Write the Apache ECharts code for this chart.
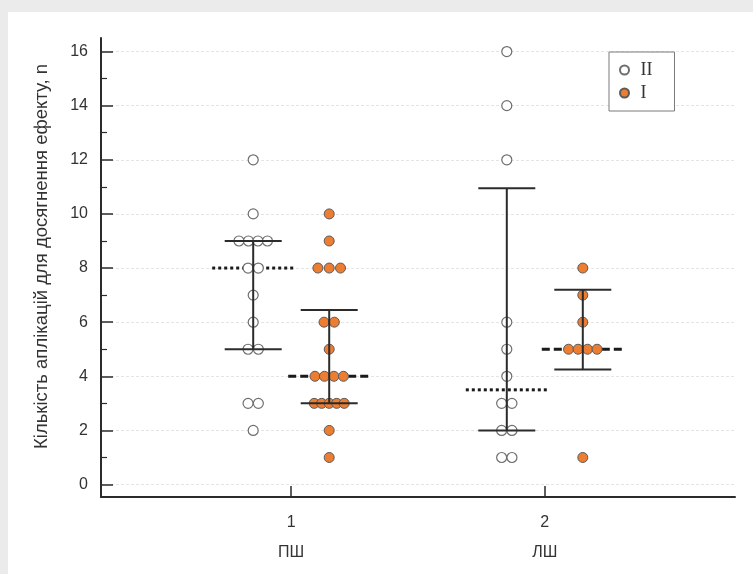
<!DOCTYPE html>
<html><head><meta charset="utf-8">
<script src="https://cdn.jsdelivr.net/npm/echarts@6/dist/echarts.min.js"></script>
<style>
html,body{margin:0;padding:0;background:#ebebeb;width:753px;height:574px;overflow:hidden}
#panel{position:absolute;left:8px;top:12px;width:745px;height:562px;background:#fff}
#chart{position:absolute;left:0;top:0;width:753px;height:574px}
</style>
</head><body><div id="panel"></div><div id="chart"></div>
<script>
// ---- data ----
const groupPos = [1, 2];
const groupNames = ['ПШ', 'ЛШ'];
const yTicks = [0, 2, 4, 6, 8, 10, 12, 14, 16];
const yMinorTicks = [1, 3, 5, 7, 9, 11, 13, 15];
const seriesNames = ['II', 'I'];

const valuesII_PSh = [12, 10, 9, 9, 9, 9, 8, 8, 7, 6, 5, 5, 3, 3, 2];
const valuesI_PSh  = [10, 9, 8, 8, 8, 6, 6, 5, 4, 4, 4, 4, 3, 3, 3, 3, 3, 2, 1];
const valuesII_LSh = [16, 14, 12, 6, 5, 4, 3, 3, 2, 2, 1, 1];
const valuesI_LSh  = [8, 7, 6, 5, 5, 5, 5, 1];

const medianII = [8, 3.5];
const lowII    = [5, 2];
const highII   = [9, 10.95];
const medianI  = [4, 5];
const lowI     = [3, 4.25];
const highI    = [6.45, 7.2];

// ---- layout (pixels) ----
const groupOffsetPx = { II: -38, I: 38 };
const spacingByCount = { 1: 0, 2: 10.3, 3: 11.3, 4: 9.5, 5: 7.5 };
const capHalf = 28.5, medianHalf = 41;

function swarm(values, pos, off) {
  const counts = {};
  values.forEach(v => counts[v] = (counts[v] || 0) + 1);
  const seen = {};
  return values.map(v => {
    const n = counts[v], k = seen[v] = (seen[v] === undefined ? 0 : seen[v] + 1);
    const sp = spacingByCount[n] !== undefined ? spacingByCount[n] : 7.5;
    return { value: [pos, v], symbolOffset: [off + (k - (n - 1) / 2) * sp, 0] };
  });
}

const dataII = swarm(valuesII_PSh, groupPos[0], groupOffsetPx.II).concat(swarm(valuesII_LSh, groupPos[1], groupOffsetPx.II));
const dataI  = swarm(valuesI_PSh, groupPos[0], groupOffsetPx.I).concat(swarm(valuesI_LSh, groupPos[1], groupOffsetPx.I));

const errII = groupPos.map((p, i) => [p, lowII[i], highII[i]]);
const errI  = groupPos.map((p, i) => [p, lowI[i], highI[i]]);
const medII = groupPos.map((p, i) => [p, medianII[i]]);
const medI  = groupPos.map((p, i) => [p, medianI[i]]);

function errRender(off) {
  return function (params, api) {
    const lo = api.coord([api.value(0), api.value(1)]);
    const hi = api.coord([api.value(0), api.value(2)]);
    const x = lo[0] + off;
    const st = { stroke: '#2b2b2b', lineWidth: 2 };
    return { type: 'group', children: [
      { type: 'line', shape: { x1: x, y1: lo[1], x2: x, y2: hi[1] }, style: st },
      { type: 'line', shape: { x1: x - capHalf, y1: lo[1], x2: x + capHalf, y2: lo[1] }, style: st },
      { type: 'line', shape: { x1: x - capHalf, y1: hi[1], x2: x + capHalf, y2: hi[1] }, style: st }
    ]};
  };
}
function medRender(off, dash) {
  return function (params, api) {
    const c = api.coord([api.value(0), api.value(1)]);
    const x = c[0] + off;
    return { type: 'line', shape: { x1: x - medianHalf, y1: c[1], x2: x + medianHalf, y2: c[1] },
      style: { stroke: '#1a1a1a', lineWidth: 3, lineDash: dash } };
  };
}

const chart = echarts.init(document.getElementById('chart'), null, { renderer: 'canvas' });
chart.setOption({
  animation: false,
  backgroundColor: 'transparent',
  textStyle: { fontFamily: 'Liberation Sans, Arial, sans-serif' },
  grid: { left: 101, right: 18, top: 38, bottom: 77 },
  legend: {
    data: seriesNames,
    orient: 'vertical',
    left: 609, top: 52,
    padding: [9, 22, 9, 10],
    itemWidth: 22, itemHeight: 9, itemGap: 5,
    icon: 'circle',
    borderColor: '#7a7a7a', borderWidth: 1,
    backgroundColor: '#fff',
    textStyle: { fontFamily: 'Liberation Serif, Times New Roman, serif', fontSize: 18, color: '#333', lineHeight: 14, padding: [0, 0, 0, 0] }
  },
  xAxis: {
    type: 'value', min: 0.25, max: 2.75,
    axisLine: { show: true, onZero: false, lineStyle: { color: '#2b2b2b', width: 2 } },
    axisTick: { show: true, inside: true, length: 11, customValues: groupPos, lineStyle: { color: '#2b2b2b', width: 1.5 } },
    axisLabel: {
      customValues: groupPos, margin: 11,
      formatter: v => { const i = groupPos.indexOf(v); return '{a|' + v + '}\n{b|' + groupNames[i] + '}'; },
      rich: { a: { fontSize: 16, lineHeight: 30, color: '#333' }, b: { fontSize: 16, lineHeight: 30, color: '#333' } }
    },
    splitLine: { show: false }
  },
  yAxis: [{
    type: 'value', min: -0.46, max: 16.5,
    name: 'Кількість аплікацій для досягнення ефекту, n',
    nameLocation: 'middle', nameGap: 50,
    nameTextStyle: { fontSize: 18.5, color: '#333', padding: [0, 0, 0, 22] },
    axisLine: { show: true, onZero: false, lineStyle: { color: '#2b2b2b', width: 2 } },
    axisTick: { show: true, inside: true, length: 12, customValues: yTicks, lineStyle: { color: '#2b2b2b', width: 1.5 } },
    axisLabel: { customValues: yTicks, margin: 13, fontSize: 16, color: '#333' },
    splitLine: { show: true, lineStyle: { color: '#e4e4e4', width: 1, type: [3, 2] } }
  }, {
    type: 'value', min: -0.46, max: 16.5, position: 'left', offset: 0,
    axisLine: { show: false },
    axisTick: { show: true, inside: true, length: 6, customValues: yMinorTicks, lineStyle: { color: '#2b2b2b', width: 1.2 } },
    axisLabel: { show: false },
    splitLine: { show: false }
  }],
  series: [
    { name: 'medII', type: 'custom', renderItem: medRender(groupOffsetPx.II, [3, 3]), data: medII, encode: { x: 0, y: 1 }, z: 2, silent: true },
    { name: 'medI', type: 'custom', renderItem: medRender(groupOffsetPx.I, [8, 4]), data: medI, encode: { x: 0, y: 1 }, z: 2, silent: true },
    { name: 'II', type: 'scatter', symbol: 'circle', symbolSize: 10, data: dataII, z: 3,
      itemStyle: { color: '#ffffff', borderColor: '#6e6e6e', borderWidth: 1.2, opacity: 1 } },
    { name: 'I', type: 'scatter', symbol: 'circle', symbolSize: 10, data: dataI, z: 3,
      itemStyle: { color: '#ED7D31', borderColor: '#5a5a5a', borderWidth: 1, opacity: 1 } },
    { name: 'errII', type: 'custom', renderItem: errRender(groupOffsetPx.II), data: errII, encode: { x: 0, y: [1, 2] }, z: 4, silent: true },
    { name: 'errI', type: 'custom', renderItem: errRender(groupOffsetPx.I), data: errI, encode: { x: 0, y: [1, 2] }, z: 4, silent: true }
  ]
});
</script>
</body></html>
